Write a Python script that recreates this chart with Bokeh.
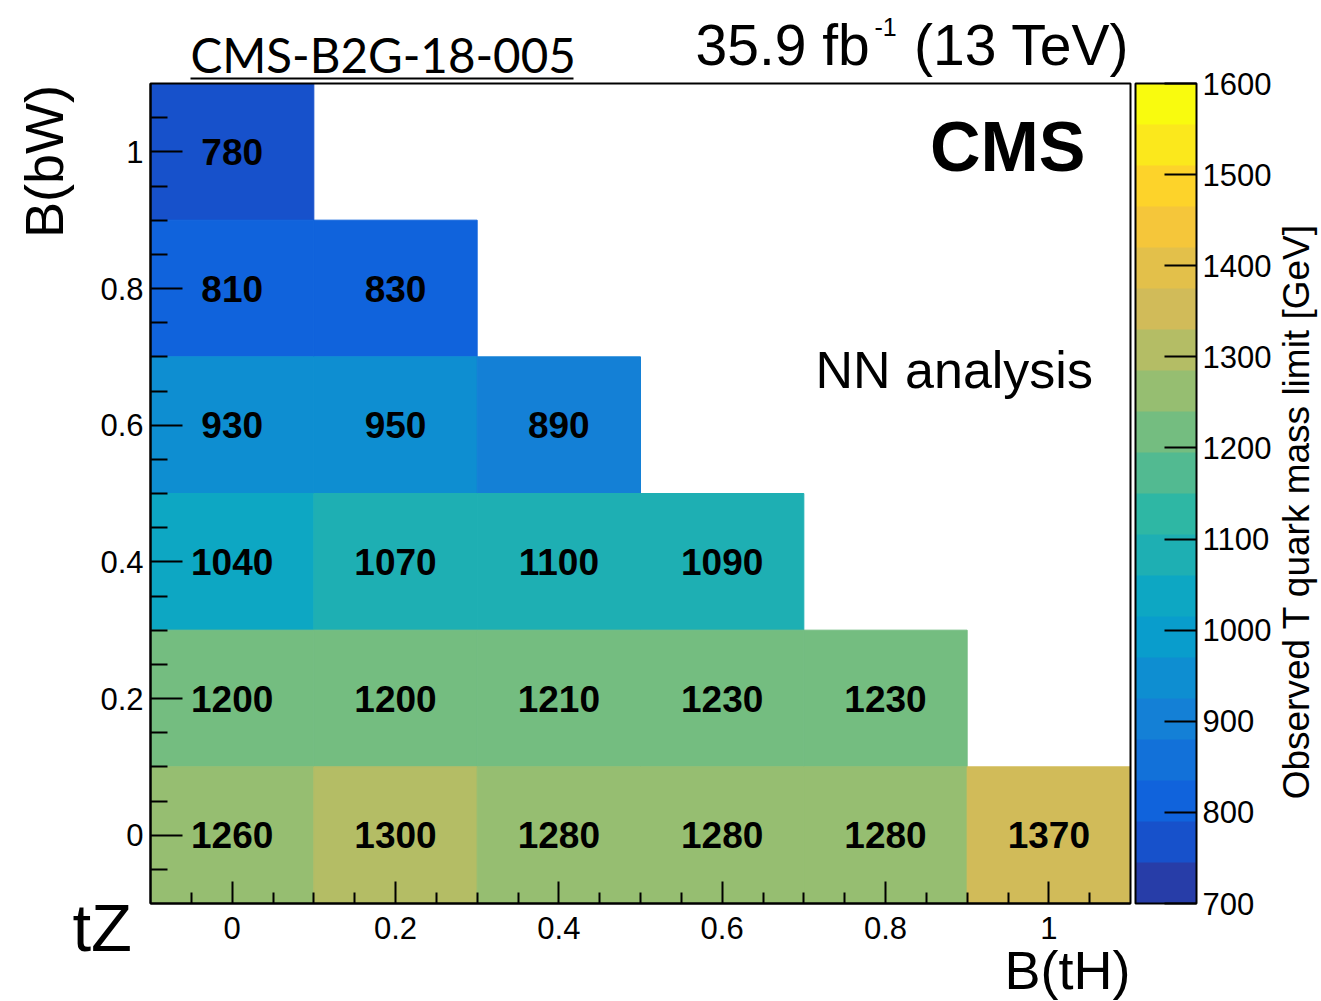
import numpy as np
from bokeh.plotting import figure
from bokeh.models import (ColumnDataSource, LinearColorMapper, ColorBar, Label, Range1d,
                          FixedTicker, CustomJSTickFormatter, Arrow, LinearAxis, BoxAnnotation)
from bokeh.transform import transform
from bokeh.core.properties import value
from bokeh.embed import file_html
from bokeh.resources import INLINE

# ---------------- data ----------------
b_th = [0.0,
        0.0, 0.2,
        0.0, 0.2, 0.4,
        0.0, 0.2, 0.4, 0.6,
        0.0, 0.2, 0.4, 0.6, 0.8,
        0.0, 0.2, 0.4, 0.6, 0.8, 1.0]
b_bw = [1.0,
        0.8, 0.8,
        0.6, 0.6, 0.6,
        0.4, 0.4, 0.4, 0.4,
        0.2, 0.2, 0.2, 0.2, 0.2,
        0.0, 0.0, 0.0, 0.0, 0.0, 0.0]
mass_limit = [780,
              810, 830,
              930, 950, 890,
              1040, 1070, 1100, 1090,
              1200, 1200, 1210, 1230, 1230,
              1260, 1300, 1280, 1280, 1280, 1370]
bin_width = 0.2
axis_lo, axis_hi = -0.1, 1.1
axis_ticks = [0, 0.2, 0.4, 0.6, 0.8, 1.0]
axis_minor_ticks = [-0.05, 0.05, 0.1, 0.15, 0.25, 0.3, 0.35, 0.45, 0.5, 0.55,
                    0.65, 0.7, 0.75, 0.85, 0.9, 0.95, 1.05]
z_low, z_high, n_levels = 700, 1600, 20
cbar_ticks = [700, 800, 900, 1000, 1100, 1200, 1300, 1400, 1500, 1600]

# ---------------- palette (ROOT kBird, 20 contour levels) ----------------
stops = [0.0, 0.125, 0.25, 0.375, 0.5, 0.625, 0.75, 0.875, 1.0]
red = [0.2082, 0.0592, 0.0780, 0.0232, 0.1802, 0.5301, 0.8186, 0.9956, 0.9764]
green = [0.1664, 0.3599, 0.5041, 0.6419, 0.7178, 0.7492, 0.7328, 0.7862, 0.9832]
blue = [0.5293, 0.8684, 0.8385, 0.7914, 0.6425, 0.4662, 0.3499, 0.1968, 0.0539]
ncol = 255
frac = np.array([int((k + 0.99) * ncol / n_levels) for k in range(n_levels)]) / (ncol - 1)
rr = np.interp(frac, stops, red)
gg = np.interp(frac, stops, green)
bb = np.interp(frac, stops, blue)
palette = ["#%02x%02x%02x" % (int(round(a * 255)), int(round(b * 255)), int(round(c * 255)))
           for a, b, c in zip(rr, gg, bb)]

mapper = LinearColorMapper(palette=palette, low=z_low, high=z_high)
source = ColumnDataSource(dict(x=b_th, y=b_bw, z=mass_limit,
                               label=[str(v) for v in mass_limit]))

FONT = "Liberation Sans"
W, H = 1320, 1000
FL, FT, FW, FH = 150, 83, 980, 820  # plot-area box in page pixels
sx = (axis_hi - axis_lo) / FW
sy = (axis_hi - axis_lo) / FH

# the frame covers the whole canvas; the plot area is the [-0.1, 1.1] box inside it
p = figure(width=W, height=H,
           x_range=Range1d(axis_lo - FL * sx, axis_lo + (W - FL) * sx),
           y_range=Range1d(axis_lo - (H - FT - FH) * sy, axis_lo + (FT + FH) * sy),
           x_axis_location=None, y_axis_location=None,
           output_backend="svg", toolbar_location=None,
           min_border=0)
p.background_fill_color = "white"
p.border_fill_color = "white"
p.outline_line_color = None
p.xgrid.visible = False
p.ygrid.visible = False

p.rect(x="x", y="y", width=bin_width, height=bin_width, source=source,
       fill_color=transform("z", mapper), line_color=transform("z", mapper), line_width=1)
p.text(x="x", y="y", text="label", source=source, text_font=value(FONT),
       text_font_style="bold", text_font_size="37px", text_align="center",
       text_baseline="middle", text_color="black")

p.add_layout(BoxAnnotation(left=axis_lo, right=axis_hi, bottom=axis_lo, top=axis_hi,
                           fill_color=None, line_color="black", line_alpha=1.0,
                           line_width=2))

fmt = CustomJSTickFormatter(code="return String(Number(tick.toFixed(3)));")
xax = LinearAxis(fixed_location=axis_lo, bounds=(axis_lo, axis_hi))
yax = LinearAxis(fixed_location=axis_lo, bounds=(axis_lo, axis_hi))
for ax, tin, tmin in ((xax, 22, 11), (yax, 32, 17)):
    ax.ticker = FixedTicker(ticks=axis_ticks, minor_ticks=axis_minor_ticks)
    ax.formatter = fmt
    ax.major_tick_in = tin
    ax.major_tick_out = 0
    ax.minor_tick_in = tmin
    ax.minor_tick_out = 0
    ax.major_tick_line_width = 2
    ax.minor_tick_line_width = 2
    ax.major_tick_line_color = "black"
    ax.minor_tick_line_color = "black"
    ax.axis_line_color = "black"
    ax.axis_line_width = 2
    ax.major_label_text_font = FONT
    ax.major_label_text_font_size = "31px"
    ax.major_label_text_color = "black"
xax.major_label_standoff = 13
yax.major_label_standoff = 7
p.add_layout(xax, "below")
p.add_layout(yax, "left")

cb = ColorBar(color_mapper=mapper, width=61, height=FH, padding=0, margin=0,
              location=(1135, H - FT - FH),
              ticker=FixedTicker(ticks=cbar_ticks),
              major_tick_in=32, major_tick_out=0, major_tick_line_color="black",
              major_tick_line_width=2, minor_tick_line_color=None,
              major_label_text_font=FONT, major_label_text_font_size="31px",
              major_label_text_color="black", label_standoff=6,
              bar_line_color="black", bar_line_width=2,
              background_fill_color=None, border_line_color=None)
p.add_layout(cb)


# ---------------- texts (page pixel positions -> data coordinates) ----------------
def dx(px):
    return axis_lo + (px - FL) * sx


def dy(py):
    return axis_lo + (FT + FH - py) * sy


def lab(text, px, py, size, align="left", font=FONT, style="normal", angle=0.0):
    # (px, py): text anchor at the vertical middle of the line box
    p.add_layout(Label(x=dx(px), y=dy(py), text=text, text_font=font,
                       text_font_size=f"{size}px", text_align=align,
                       text_baseline="middle", text_font_style=style,
                       angle=angle, text_color="black"))


lab("CMS-B2G-18-005", 190, 54, 47.5, font="Lato")
p.add_layout(Arrow(start=None, end=None, x_start=dx(190), y_start=dy(78),
                   x_end=dx(573), y_end=dy(78), line_width=2, line_color="black"))
lab("35.9 fb", 695, 44, 57)
lab("-1", 874, 26, 25)
lab("(13 TeV)", 1129, 44, 57, align="right")
lab("CMS", 1085, 146, 70, align="right", style="bold")
lab("NN analysis", 815, 369, 52)
lab("B(bW)", 43, 161, 54, align="center", angle=np.pi / 2)
lab("tZ", 72, 927, 67)
lab("B(tH)", 1130, 969, 54, align="right")
lab("Observed T quark mass limit [GeV]", 1296, 511, 37, align="center", angle=np.pi / 2)

open("out.html", "w").write(file_html(p, INLINE))
